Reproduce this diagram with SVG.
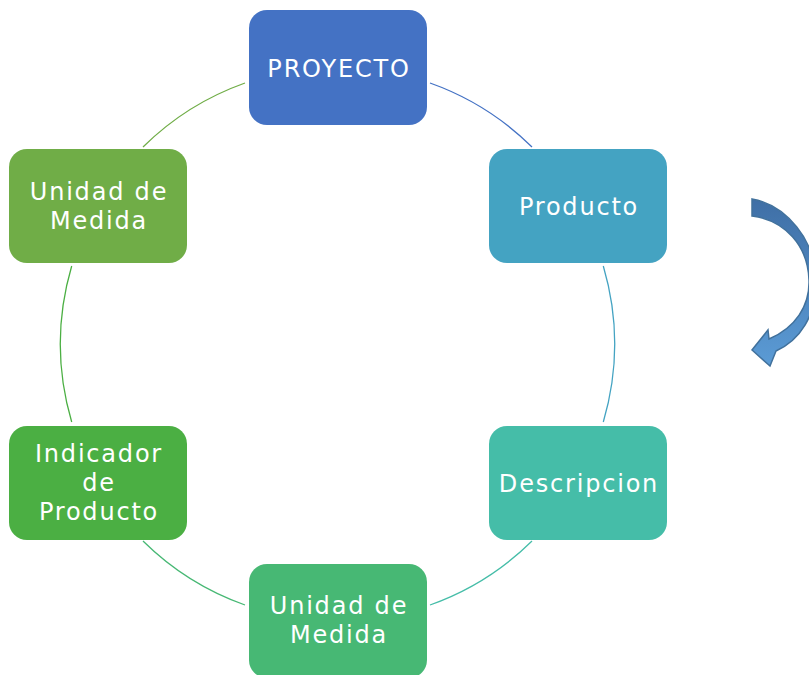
<svg xmlns="http://www.w3.org/2000/svg" width="809" height="675" viewBox="0 0 809 675">
<defs>
<style>
.node text{font-family:"DejaVu Sans","Liberation Sans",Arial,sans-serif;font-size:24px;letter-spacing:1.8px;fill:#ffffff;text-anchor:middle}
.conn path{fill:none;stroke-width:1.3}
</style>
<linearGradient id="ag" x1="0" y1="0" x2="0" y2="1">
<stop offset="0" stop-color="#3F6FA6"/>
<stop offset="1" stop-color="#5B9BD5"/>
</linearGradient>
</defs>
<rect width="809" height="675" fill="#ffffff"/>
<g id="connectors" class="conn">
<path d="M430,83 A277,277 0 0 1 532,147" stroke="#4472C4"/>
<path d="M603.3,266 A277,277 0 0 1 603.3,422" stroke="#44A3C2"/>
<path d="M532,541 A277,277 0 0 1 430,605" stroke="#45BDA8"/>
<path d="M245,605 A277,277 0 0 1 143,541" stroke="#47B874"/>
<path d="M71.7,422 A277,277 0 0 1 71.7,266" stroke="#4BAF43"/>
<path d="M143,147 A277,277 0 0 1 245,83" stroke="#70AD47"/>
</g>
<g id="n-proyecto" class="node">
<rect x="249" y="10" width="178" height="115" rx="18" fill="#4472C4"/>
<text x="339" y="77">PROYECTO</text>
</g>
<g id="n-producto" class="node">
<rect x="489" y="149" width="178" height="114" rx="18" fill="#44A3C2"/>
<text x="579" y="215">Producto</text>
</g>
<g id="n-descripcion" class="node">
<rect x="489" y="426" width="178" height="114" rx="18" fill="#45BDA8"/>
<text x="579" y="492">Descripcion</text>
</g>
<g id="n-unidad-bottom" class="node">
<rect x="249" y="564" width="178" height="114" rx="18" fill="#47B874"/>
<text x="339" y="614">Unidad de</text>
<text x="339" y="643">Medida</text>
</g>
<g id="n-indicador" class="node">
<rect x="9" y="426" width="178" height="114" rx="18" fill="#4BAF43"/>
<text x="99" y="462">Indicador</text>
<text x="99" y="491">de</text>
<text x="99" y="520">Producto</text>
</g>
<g id="n-unidad-top" class="node">
<rect x="9" y="149" width="178" height="114" rx="18" fill="#70AD47"/>
<text x="99" y="200">Unidad de</text>
<text x="99" y="229">Medida</text>
</g>
<g id="curved-arrow">
<path d="M752,199 C786,205 816,240 816,282 C816,316 800,340 776,351 L770,366 L752,350 L768,330 L769,339 C795,328 810,306 809,280 C808,246 785,220 752,216 Z" fill="url(#ag)" stroke="#41719C" stroke-width="1.5" stroke-linejoin="miter"/>
</g>
</svg>
